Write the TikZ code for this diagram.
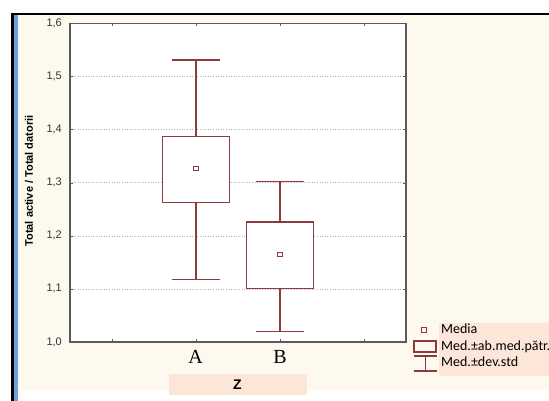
\documentclass[tikz,border=0pt]{standalone}
\usepackage{fontspec}
\setmainfont{Liberation Serif}
\setsansfont{Liberation Sans}
\newfontfamily\legendfont{Carlito}
\usetikzlibrary{positioning}
\definecolor{boxred}{HTML}{8B3A3E}
\definecolor{panelbg}{HTML}{FEF9EF}
\definecolor{peach}{HTML}{FBE6D8}
\definecolor{barblue}{HTML}{6E9FE0}
\definecolor{framegray}{HTML}{5A5A5A}

\begin{document}
\begin{tikzpicture}[x=1pt,y=-1pt,
  ticklabel/.style={font=\sffamily\fontsize{11}{11}\selectfont,text=black!80,anchor=east,inner sep=0pt},
  catlabel/.style={font=\fontsize{20}{20}\selectfont,inner sep=0pt},
  legtext/.style={font=\legendfont\fontsize{14}{14}\selectfont,anchor=base west,inner sep=0pt},
  stat/.style={boxred,line width=1.1pt},
  gridline/.style={black!30,dotted,line width=0.6pt}]
  \useasboundingbox (0,0) rectangle (549,401);
  % panel
  \fill[white] (0,0) rectangle (549,401);
  \fill[panelbg] (17,15) rectangle (549,390);
  \fill[panelbg] (17,390) rectangle (21,401);
  \fill[barblue] (14,15) rectangle (18,401);
  \fill[black] (11,13) rectangle (14,401);
  \fill[black] (11,13) rectangle (549,15.5);
  % plot area (data units)
  \begin{scope}[shift={(70,873)},x=84pt,y=531pt]
    \fill[white] (0,1) rectangle (4,1.6);
    \foreach \d in {1,...,5}
      \draw[gridline] (0,1+\d/10) -- (4,1+\d/10);
    \foreach \d in {0,...,6}{
      \node[ticklabel] (y\d) at (-0.095,1+\d/10) {1,\d};
      \draw[framegray] (0,1+\d/10) -- ++(3pt,0pt) (4,1+\d/10) -- ++(-3pt,0pt);
    }
    \foreach \x in {0.5,1.5,2.5,3.5}
      \draw[framegray] (\x,1) -- ++(0pt,3pt) (\x,1.6) -- ++(0pt,-3pt);
    % mean, box, whiskers
    \foreach \x/\wl/\bl/\mn/\bu/\wu in {1.5/1.118/1.262/1.327/1.387/1.531,2.5/1.020/1.100/1.165/1.226/1.303}{
      \draw[stat] (\x-0.28,\wu) -- (\x+0.28,\wu) (\x,\wu) -- (\x,\bu)
        (\x,\bl) -- (\x,\wl) (\x-0.28,\wl) -- (\x+0.28,\wl);
      \draw[stat,fill=white] (\x-0.4,\bl) rectangle (\x+0.4,\bu);
      \draw[stat,line width=0.8pt] (\x,\mn) ++(-2.2pt,-2.2pt) rectangle ++(4.4pt,4.4pt);
    }
    \draw[framegray,line width=1.3pt] (0,1) rectangle (4,1.6);
  \end{scope}
  % labels
  \node[catlabel] (labA) at (195.5,357) {A};
  \node[catlabel] (labB) at (280,357) {B};
  \node[fill=peach,minimum width=138pt,minimum height=21pt,inner sep=0pt,
    font=\sffamily\bfseries\fontsize{14}{14}\selectfont] (zbox) at (237.5,384.5) {Z};
  \node[rotate=90,font=\sffamily\bfseries\fontsize{11}{11}\selectfont,inner sep=0pt] (ylab) at (29,181) {Total active / Total datorii};
  % legend
  \fill[peach] (439,323) rectangle (549,376);
  \draw[stat,line width=0.8pt] (421.8,327.8) rectangle (426.2,332.2);
  \draw[stat] (414,341) rectangle (436,352);
  \draw[stat] (414,356) -- (437,356) (425.5,356) -- (425.5,371) (414,371) -- (437,371);
  \node[legtext] (leg1) at (441,333.5) {Media};
  \node[legtext] (leg2) at (441,350) {Med.±ab.med.pătr.};
  \node[legtext] (leg3) at (441,366.5) {Med.±dev.std};
\end{tikzpicture}
\end{document}
